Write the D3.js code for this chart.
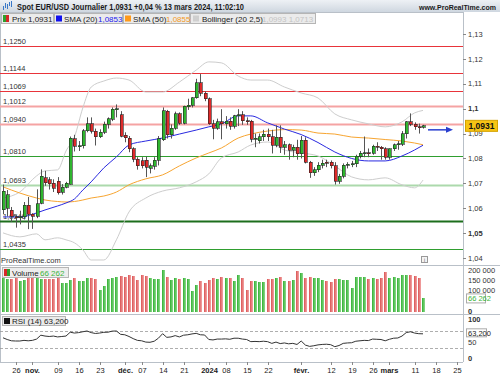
<!DOCTYPE html>
<meta charset="utf-8">
<style>
    body { margin: 0; background: #fff; }
    svg text { font-family: "Liberation Sans", Arial, sans-serif; }
    .candle rect, .vol rect, .frame line { shape-rendering: crispEdges; }
</style>
<script src="https://d3js.org/d3.v7.min.js"></script>
<body>
<svg id="chart" width="500" height="375"></svg>
<script>
// ---- data (EUR/USD daily) ----
var openP = [1.0594,1.0600,1.0592,1.0566,1.0562,1.0566,1.0612,1.0576,1.0568,1.0620,
    1.0722,1.0714,1.0700,1.0708,1.0665,1.0685,1.0697,1.0880,1.0848,1.0852,
    1.0912,1.0940,1.0910,1.0888,1.0906,1.0938,1.0958,1.0995,1.0975,1.0893,
    1.0882,1.0838,1.0797,1.0790,1.0792,1.0760,1.0768,1.0793,1.0876,1.0990,
    1.0895,1.0922,1.0980,1.0942,1.1008,1.1013,1.1043,1.1105,1.1062,1.1039,
    1.0940,1.0922,1.0948,1.0940,1.0950,1.0930,1.0972,1.0975,1.0952,1.0950,
    1.0878,1.0872,1.0888,1.0897,1.0887,1.0854,1.0886,1.0845,1.0855,1.0833,
    1.0845,1.0818,1.0873,1.0785,1.0742,1.0755,1.0773,1.0785,1.0785,1.0771,
    1.0708,1.0728,1.0772,1.0777,1.0778,1.0808,1.0820,1.0823,1.0820,1.0850,
    1.0845,1.0838,1.0805,1.0838,1.0855,1.0858,1.0900,1.0947,1.0938,1.0928,
    1.0925];
var highP = [1.0695,1.0673,1.0605,1.0572,1.0590,1.0625,1.0645,1.0580,1.0676,1.0756,
    1.0750,1.0725,1.0716,1.0725,1.0697,1.0706,1.0888,1.0895,1.0870,1.0918,
    1.0965,1.0965,1.0920,1.0917,1.0948,1.0965,1.1005,1.1017,1.0990,1.0905,
    1.0890,1.0845,1.0805,1.0805,1.0808,1.0780,1.0805,1.0890,1.1005,1.0995,
    1.0937,1.0988,1.0985,1.1012,1.1040,1.1046,1.1120,1.1139,1.1070,1.1045,
    1.0955,1.0960,1.0998,1.0970,1.0965,1.0975,1.0998,1.0990,1.0965,1.0955,
    1.0900,1.0900,1.0915,1.0920,1.0915,1.0933,1.0933,1.0870,1.0860,1.0855,
    1.0875,1.0890,1.0885,1.0790,1.0765,1.0785,1.0795,1.0795,1.0792,1.0785,
    1.0738,1.0780,1.0785,1.0790,1.0815,1.0830,1.0888,1.0840,1.0855,1.0865,
    1.0850,1.0845,1.0840,1.0860,1.0870,1.0910,1.0950,1.0981,1.0945,1.0940,
    1.0935];
var lowP = [1.0576,1.0567,1.0545,1.0522,1.0535,1.0555,1.0516,1.0517,1.0560,1.0616,
    1.0690,1.0675,1.0665,1.0655,1.0655,1.0680,1.0695,1.0828,1.0830,1.0840,
    1.0905,1.0900,1.0852,1.0882,1.0898,1.0920,1.0950,1.0965,1.0885,1.0865,
    1.0825,1.0785,1.0755,1.0760,1.0725,1.0740,1.0755,1.0772,1.0870,1.0880,
    1.0880,1.0915,1.0935,1.0937,1.0995,1.1005,1.1040,1.1050,1.1030,1.0935,
    1.0877,1.0915,1.0877,1.0920,1.0915,1.0920,1.0930,1.0935,1.0935,1.0865,
    1.0845,1.0860,1.0870,1.0870,1.0820,1.0845,1.0822,1.0815,1.0795,1.0805,
    1.0795,1.0800,1.0780,1.0722,1.0730,1.0745,1.0760,1.0765,1.0760,1.0695,
    1.0698,1.0720,1.0760,1.0765,1.0765,1.0800,1.0805,1.0805,1.0815,1.0830,
    1.0795,1.0795,1.0795,1.0830,1.0835,1.0850,1.0880,1.0930,1.0915,1.0900,
    1.0920];
var closeP = [1.0668,1.0655,1.0568,1.0562,1.0566,1.0612,1.0576,1.0568,1.0618,1.0728,
    1.0702,1.0698,1.0680,1.0662,1.0685,1.0700,1.0882,1.0848,1.0852,1.0912,
    1.0940,1.0910,1.0888,1.0906,1.0938,1.0960,1.0998,1.0999,1.0890,1.0884,
    1.0838,1.0797,1.0770,1.0770,1.0765,1.0770,1.0792,1.0880,1.0992,1.0895,
    1.0922,1.0980,1.0942,1.1010,1.1013,1.1043,1.1105,1.1062,1.1039,1.0940,
    1.0922,1.0948,1.0940,1.0950,1.0930,1.0972,1.0975,1.0952,1.0950,1.0878,
    1.0882,1.0888,1.0897,1.0887,1.0854,1.0886,1.0845,1.0855,1.0833,1.0845,
    1.0818,1.0873,1.0785,1.0742,1.0755,1.0773,1.0780,1.0780,1.0771,1.0708,
    1.0728,1.0772,1.0777,1.0778,1.0808,1.0820,1.0823,1.0820,1.0850,1.0845,
    1.0838,1.0805,1.0838,1.0855,1.0860,1.0900,1.0947,1.0938,1.0928,1.0925,
    1.0931];
var volume = [166000,161000,161000,169000,151000,156000,177000,172000,169000,159000,
    159000,159000,159000,166000,140000,140000,156000,166000,153000,153000,
    166000,166000,159000,107000,128000,161000,166000,172000,177000,169000,
    182000,176000,156000,182000,176000,166000,161000,159000,205000,172000,
    156000,166000,159000,166000,161000,101000,133000,150000,140000,156000,
    166000,159000,169000,166000,166000,151000,182000,166000,107000,151000,
    151000,145000,145000,159000,159000,166000,169000,151000,151000,156000,
    198000,189000,166000,169000,166000,166000,156000,151000,145000,159000,
    159000,156000,156000,117000,172000,172000,169000,159000,166000,161000,
    166000,194000,166000,172000,166000,182000,182000,182000,176000,166000,
    66262];
var rsi = [54,50,47,46.5,46.5,48,47,48,51,60,
    58,57,58,56,57,58,67,65,66,68,
    69.8,66,64,65,66.7,67,69.5,69.8,62,61,
    57,52,48,47,44,43.5,46,53,63.5,55,
    56,59,56,60,61,63,64.3,61,60.5,50,
    49,51,51,51.5,50.5,53,53,51,50,45,
    45.5,45,46,45,41,44,40.5,42,40,41,
    38.5,46.5,37,34,35.5,37.5,38.5,39,38,33.3,
    36,41,42,42.5,46,47,48,47.5,51,50.5,
    50,47,50.5,53,53.5,58,66,68,65,63.5,
    63.2];

// indicator lines, read at these candle positions
var lineIdx = [0,4,8,10,13,15,17,19,21,24,27,30,34,38,42,46,49,52,56,59,63,67,71,75,79,83,87,91,95,98,100];
var sma20 = [1.0565,1.0565,1.0581,1.0593,1.0609,1.0621,1.0637,1.0673,1.0706,1.0762,1.0806,1.0854,1.0870,1.0882,1.0898,1.0914,
    1.0927,1.0939,1.0971,1.0971,1.0943,1.0918,1.0896,1.0864,1.0826,1.0800,1.0790,1.0790,1.0810,1.0834,1.0853];
var sma50 = [1.0686,1.0661,1.0641,1.0633,1.0627,1.0625,1.0627,1.0633,1.0641,1.0649,1.0665,1.0694,1.0718,1.0734,1.0770,1.0802,
    1.0822,1.0842,1.0882,1.0898,1.0910,1.0916,1.0914,1.0902,1.0898,1.0886,1.0882,1.0876,1.0870,1.0862,1.0855];
var bbUpper = [1.0641,1.0665,1.0730,1.0750,1.0754,1.0830,1.0886,1.1003,1.1087,1.1111,1.1123,1.1115,1.1067,1.1067,1.1107,1.1155,
    1.1188,1.1184,1.1131,1.1115,1.1115,1.1087,1.1063,1.1043,1.0979,1.0955,1.0939,1.0927,1.0947,1.0983,1.0993];
var bbLower = [1.0501,1.0485,1.0497,1.0473,1.0481,1.0473,1.0461,1.0433,1.0392,1.0392,1.0473,1.0585,1.0641,1.0669,1.0682,1.0706,
    1.0738,1.0802,1.0826,1.0854,1.0866,1.0834,1.0822,1.0810,1.0770,1.0726,1.0714,1.0722,1.0694,1.0682,1.0713];

// horizontal support / resistance levels
var levels = [1.1250, 1.1144, 1.1069, 1.1012, 1.0940, 1.0810, 1.0693, 1.0548, 1.0435];
var levelLabels = ["1,1250", "1,1144", "1,1069", "1,1012", "1,0940", "1,0810", "1,0693", "1,0548", "1,0435"];

var priceTicks = [1.13, 1.12, 1.11, 1.10, 1.09, 1.08, 1.07, 1.06, 1.05, 1.04];
var priceTickLabels = ["1,13", "1,12", "1,11", "1,1", "1,09", "1,08", "1,07", "1,06", "1,05", "1,04"];
var volTicks = [200000, 150000, 100000, 0];
var volTickLabels = ["200 000", "150 000", "100 000", "0"];
var rsiTicks = [100, 50, 0];

var xTickDates = ["2023-10-26","2023-11-01","2023-11-09","2023-11-16","2023-11-23","2023-12-01","2023-12-07",
    "2023-12-14","2023-12-21","2024-01-02","2024-01-08","2024-01-15","2024-01-22","2024-02-01","2024-02-12",
    "2024-02-19","2024-02-26","2024-03-01","2024-03-11","2024-03-18","2024-03-25"];
var xTickLabels = ["26","nov.","09","16","23","déc.","07","14","21","2024","08","15","22","févr.","12","19","26","mars","11","18","25"];

// trading calendar: weekdays, without Christmas and New Year
var holidays = ["2023-12-25", "2024-01-01"];
var fmt = d3.timeFormat("%Y-%m-%d");
var calendar = d3.timeDay.range(new Date(2023, 9, 23), new Date(2024, 2, 30))
    .filter(function (d) {
        var w = d.getDay();
        return w > 0 && w < 6 && holidays.indexOf(fmt(d)) < 0;
    })
    .map(fmt);

function makeChart() {
    var svg = d3.select("#chart");
    var axisX = 463;
    var top = 24, bottom = 265;

    var x = d3.scaleLinear().domain([0, 100]).range([3, 423]);
    var y = d3.scaleLinear().domain([1.04, 1.13]).range([258, 34]);
    var yVol = d3.scaleLinear().domain([0, 200000]).range([312, 271]);
    var yRsi = d3.scaleLinear().domain([0, 100]).range([361, 318]);

    var defs = svg.append("defs");
    defs.append("clipPath").attr("id", "mainClip")
        .append("rect").attr("x", 0).attr("y", top).attr("width", axisX).attr("height", bottom - top);

    function grad(id, c1, c2) {
        var g = defs.append("linearGradient").attr("id", id)
            .attr("x1", "0%").attr("x2", "100%").attr("y1", "0%").attr("y2", "0%");
        g.append("stop").attr("offset", "0%").attr("stop-color", c1);
        g.append("stop").attr("offset", "100%").attr("stop-color", c2);
    }
    grad("volUp", "#22a822", "#8ad98a");
    grad("volDown", "#d64545", "#f2a3a3");
    var hg = defs.append("linearGradient").attr("id", "header")
        .attr("x1", "0%").attr("x2", "0%").attr("y1", "0%").attr("y2", "100%");
    hg.append("stop").attr("offset", "0%").attr("stop-color", "#eef1f5");
    hg.append("stop").attr("offset", "100%").attr("stop-color", "#cfd7e0");

    // header bar
    svg.append("rect").attr("x", 0).attr("y", 0).attr("width", 500).attr("height", 12).attr("fill", "url(#header)");
    var icon = svg.append("g").attr("stroke", "#3a78c8").attr("stroke-width", 1);
    [[3, 9, 6], [5, 7, 3], [7, 8, 4], [9, 5, 2], [11, 6, 1]].forEach(function (b) {
        icon.append("line").attr("x1", b[0] + 0.5).attr("x2", b[0] + 0.5).attr("y1", b[1] + 1).attr("y2", b[2]);
    });
    svg.append("text").attr("x", 17).attr("y", 9.5)
        .attr("font-size", "8.5px").attr("font-weight", "bold").attr("fill", "#1a1a1a")
        .attr("textLength", 227).attr("lengthAdjust", "spacingAndGlyphs")
        .text("Spot EUR/USD Journalier 1,0931 +0,04 % 13 mars 2024, 11:02:10");
    svg.append("text").attr("x", 496).attr("y", 9.5).attr("text-anchor", "end")
        .attr("font-size", "7px").attr("font-weight", "bold").attr("fill", "#1a1a1a")
        .text("www.ProRealTime.com");

    // frame lines
    var frame = svg.append("g").attr("class", "frame").attr("stroke", "#b9c0c8").attr("stroke-width", 1);
    frame.append("line").attr("x1", 0).attr("x2", axisX).attr("y1", 12.5).attr("y2", 12.5);
    frame.append("line").attr("x1", axisX + 0.5).attr("x2", axisX + 0.5).attr("y1", 12).attr("y2", 362);
    frame.append("line").attr("x1", 0.5).attr("x2", 0.5).attr("y1", 12).attr("y2", 362);
    frame.append("line").attr("x1", 0).attr("x2", 500).attr("y1", 265.5).attr("y2", 265.5);
    frame.append("line").attr("x1", 0).attr("x2", 500).attr("y1", 314.5).attr("y2", 314.5);
    frame.append("line").attr("x1", 0).attr("x2", axisX).attr("y1", 362.5).attr("y2", 362.5);

    // legend row
    function legendBox(x0, w) {
        svg.append("rect").attr("x", x0 + 0.5).attr("y", 13.5).attr("width", w).attr("height", 10)
            .attr("fill", "#ebebeb").attr("stroke", "#b5b5b5");
    }
    legendBox(1, 52); legendBox(54, 68); legendBox(123, 66); legendBox(190, 125);
    svg.append("rect").attr("x", 3).attr("y", 15).attr("width", 3).attr("height", 7).attr("fill", "#2ca02c");
    svg.append("rect").attr("x", 6).attr("y", 15).attr("width", 3).attr("height", 7).attr("fill", "#d62728");
    svg.append("rect").attr("x", 56).attr("y", 15.5).attr("width", 6).attr("height", 6).attr("fill", "#1010ee");
    svg.append("rect").attr("x", 125).attr("y", 15.5).attr("width", 6).attr("height", 6).attr("fill", "#ff9a1a");
    svg.append("rect").attr("x", 193).attr("y", 15.5).attr("width", 6).attr("height", 6).attr("fill", "#cfcfcf");
    var lg = svg.append("g").attr("font-size", "8px");
    lg.append("text").attr("x", 12).attr("y", 21.5).attr("fill", "#222").text("Prix 1,0931");
    lg.append("text").attr("x", 64).attr("y", 21.5).attr("fill", "#222").text("SMA (20)");
    lg.append("text").attr("x", 98).attr("y", 21.5).attr("fill", "#1a1aee").text("1,0853");
    lg.append("text").attr("x", 133).attr("y", 21.5).attr("fill", "#222").text("SMA (50)");
    lg.append("text").attr("x", 166).attr("y", 21.5).attr("fill", "#f39a22").text("1,0855");
    lg.append("text").attr("x", 202).attr("y", 21.5).attr("fill", "#222").text("Bollinger (20 2,5)");
    lg.append("text").attr("x", 262).attr("y", 21.5).attr("fill", "#c4c4c4").text("1,0993  1,0713");

    var plot = svg.append("g").attr("clip-path", "url(#mainClip)");

    // support / resistance levels
    var levelColor = ["#e8343a", "#e8343a", "#e8343a", "#f5a3a3", "#f5a3a3", "#2f9e2f", "#acd9ac", "#1c6e1c", "#2f9e2f"];
    var levelWidth = [1, 1, 1, 2, 2, 1, 2, 2, 1];
    plot.selectAll("line.level").data(levels).enter().append("line")
        .attr("class", "level")
        .attr("x1", 0).attr("x2", axisX)
        .attr("y1", function (d) { return Math.round(y(d)) + 0.5; })
        .attr("y2", function (d) { return Math.round(y(d)) + 0.5; })
        .attr("stroke", function (d, i) { return levelColor[i]; })
        .attr("stroke-width", function (d, i) { return levelWidth[i]; });
    plot.selectAll("text.level").data(levels).enter().append("text")
        .attr("class", "level")
        .attr("x", 3).attr("y", function (d) { return Math.round(y(d)) - 2; })
        .attr("font-size", "7.5px").attr("fill", "#333")
        .text(function (d, i) { return levelLabels[i]; });

    // indicator lines
    function drawLine(values, color) {
        var line = d3.line()
            .x(function (d, i) { return x(lineIdx[i]); })
            .y(function (d) { return y(d); })
            .curve(d3.curveMonotoneX);
        plot.append("path").attr("d", line(values))
            .attr("fill", "none").attr("stroke", color).attr("stroke-width", 1);
    }
    drawLine(bbUpper, "#cdcdcd");
    drawLine(bbLower, "#cdcdcd");
    drawLine(sma50, "#f7a531");
    drawLine(sma20, "#2a2ae0");

    // candles
    var idx = d3.range(closeP.length);
    var candles = plot.append("g").attr("class", "candle").selectAll("g").data(idx).enter().append("g");
    candles.append("line")
        .attr("x1", function (i) { return Math.round(x(i)) + 0.5; })
        .attr("x2", function (i) { return Math.round(x(i)) + 0.5; })
        .attr("y1", function (i) { return y(highP[i]); })
        .attr("y2", function (i) { return y(lowP[i]); })
        .attr("stroke", "#555").attr("stroke-width", 1);
    candles.append("rect")
        .attr("x", function (i) { return Math.round(x(i)) - 1; })
        .attr("width", 3)
        .attr("y", function (i) { return y(Math.max(openP[i], closeP[i])); })
        .attr("height", function (i) { return Math.max(1, Math.abs(y(openP[i]) - y(closeP[i]))); })
        .attr("fill", function (i) { return closeP[i] >= openP[i] ? "#2fb52f" : "#de2a2a"; })
        .attr("stroke", "#222").attr("stroke-width", 0.6);

    // last price arrow and tag
    var lastY = y(closeP[closeP.length - 1]);
    svg.append("line").attr("x1", 428).attr("x2", 447).attr("y1", lastY + 4).attr("y2", lastY + 4)
        .attr("stroke", "#2a3fcf").attr("stroke-width", 1.5);
    svg.append("path").attr("d", "M446," + (lastY + 1) + " L453," + (lastY + 4) + " L446," + (lastY + 7) + " Z")
        .attr("fill", "#2a3fcf");

    // price axis
    var pa = svg.append("g").attr("font-size", "7.5px").attr("fill", "#333");
    pa.selectAll("line").data(priceTicks).enter().append("line")
        .attr("x1", axisX).attr("x2", axisX + 3)
        .attr("y1", function (d) { return Math.round(y(d)) + 0.5; })
        .attr("y2", function (d) { return Math.round(y(d)) + 0.5; })
        .attr("stroke", "#888");
    pa.selectAll("text").data(priceTicks).enter().append("text")
        .attr("x", 468).attr("y", function (d) { return y(d) + 2.7; })
        .attr("font-weight", function (d, i) { return (i === 3 || i === 8) ? "bold" : "normal"; })
        .text(function (d, i) { return priceTickLabels[i]; });
    svg.append("rect").attr("x", 465.5).attr("y", lastY - 5.5).attr("width", 32).attr("height", 11)
        .attr("fill", "#f7c414").attr("stroke", "#d4a200");
    svg.append("text").attr("x", 481.5).attr("y", lastY + 3).attr("text-anchor", "middle")
        .attr("font-size", "8.5px").attr("font-weight", "bold").attr("fill", "#111").text("1,0931");

    svg.append("text").attr("x", 1).attr("y", 263).attr("font-size", "7.5px").attr("fill", "#333").text("ProRealTime.com");
    svg.append("rect").attr("x", 421.5).attr("y", 256.5).attr("width", 6).attr("height", 6)
        .attr("fill", "#f4f4f4").attr("stroke", "#999");
    svg.append("text").attr("x", 424.5).attr("y", 261.5).attr("text-anchor", "middle")
        .attr("font-size", "5px").attr("fill", "#666").text("i");

    // volume panel
    var vol = svg.append("g").attr("class", "vol");
    vol.selectAll("rect").data(idx).enter().append("rect")
        .attr("x", function (i) { return Math.round(x(i)) - 1.5; })
        .attr("width", 3.4)
        .attr("y", function (i) { return yVol(volume[i]); })
        .attr("height", function (i) { return yVol(0) - yVol(volume[i]); })
        .attr("fill", function (i) { return closeP[i] >= openP[i] ? "url(#volUp)" : "url(#volDown)"; });
    svg.append("rect").attr("x", 2.5).attr("y", 267.5).attr("width", 66).attr("height", 10)
        .attr("fill", "#ebebeb").attr("stroke", "#b5b5b5").attr("fill-opacity", 0.9);
    svg.append("rect").attr("x", 4).attr("y", 269).attr("width", 3).attr("height", 7).attr("fill", "#d62728");
    svg.append("rect").attr("x", 7).attr("y", 269).attr("width", 3).attr("height", 7).attr("fill", "#2ca02c");
    svg.append("text").attr("x", 12).attr("y", 275.5).attr("font-size", "8px").attr("fill", "#222").text("Volume");
    svg.append("text").attr("x", 40).attr("y", 275.5).attr("font-size", "8px").attr("fill", "#3cb43c").text("66 262");
    var va = svg.append("g").attr("font-size", "7.5px").attr("fill", "#333");
    va.selectAll("text").data(volTicks).enter().append("text")
        .attr("x", 468).attr("y", function (d) { return yVol(d) + 1.5; })
        .attr("font-weight", function (d) { return d === 0 ? "bold" : "normal"; })
        .text(function (d, i) { return volTickLabels[i]; });
    svg.append("rect").attr("x", 466.5).attr("y", yVol(66262) - 4.5).attr("width", 19).attr("height", 9)
        .attr("fill", "#fff").attr("stroke", "#aaa");
    svg.append("text").attr("x", 468).attr("y", yVol(66262) + 2.5).attr("font-size", "7.5px")
        .attr("fill", "#3cb43c").text("66 262");

    // RSI panel
    [70, 30].forEach(function (lv) {
        svg.append("line").attr("x1", 0).attr("x2", axisX)
            .attr("y1", Math.round(yRsi(lv)) + 0.5).attr("y2", Math.round(yRsi(lv)) + 0.5)
            .attr("stroke", "#999").attr("stroke-width", 0.8).attr("stroke-dasharray", "3,2");
    });
    var rsiLine = d3.line()
        .x(function (d, i) { return x(i); })
        .y(function (d) { return yRsi(d); });
    svg.append("path").attr("d", rsiLine(rsi)).attr("fill", "none").attr("stroke", "#333").attr("stroke-width", 1);
    svg.append("rect").attr("x", 2.5).attr("y", 316.5).attr("width", 63).attr("height", 9)
        .attr("fill", "#ebebeb").attr("stroke", "#b5b5b5");
    svg.append("rect").attr("x", 4).attr("y", 318).attr("width", 6).attr("height", 6).attr("fill", "#111");
    svg.append("text").attr("x", 12).attr("y", 324).attr("font-size", "8px").attr("fill", "#222").text("RSI (14) 63,200");
    var rsiLabelShift = { 100: 3.5, 50: 5, 0: -0.5 };
    var ra = svg.append("g").attr("font-size", "7.5px").attr("fill", "#333");
    ra.selectAll("text").data(rsiTicks).enter().append("text")
        .attr("x", 468).attr("y", function (d) { return yRsi(d) + rsiLabelShift[d]; })
        .attr("font-weight", function (d) { return d === 50 ? "normal" : "bold"; })
        .text(function (d) { return d; });
    svg.append("rect").attr("x", 466.5).attr("y", yRsi(63.2) - 5).attr("width", 20).attr("height", 8)
        .attr("fill", "#fff").attr("stroke", "#aaa");
    svg.append("text").attr("x", 468).attr("y", yRsi(63.2) + 1.8).attr("font-size", "7.5px")
        .attr("fill", "#222").text("63,200");

    // date axis
    var months = ["nov.", "déc.", "2024", "févr.", "mars"];
    var xa = svg.append("g");
    xTickDates.forEach(function (d, i) {
        var xp = Math.round(x(calendar.indexOf(d))) + 0.5;
        xa.append("line").attr("x1", xp).attr("x2", xp).attr("y1", 362).attr("y2", 365).attr("stroke", "#888");
        xa.append("text").attr("x", xp).attr("y", 373).attr("text-anchor", "middle")
            .attr("font-size", "7.5px").attr("fill", "#222")
            .attr("font-weight", months.indexOf(xTickLabels[i]) >= 0 ? "bold" : "normal")
            .text(xTickLabels[i]);
    });
}

makeChart();
</script>
</body>
